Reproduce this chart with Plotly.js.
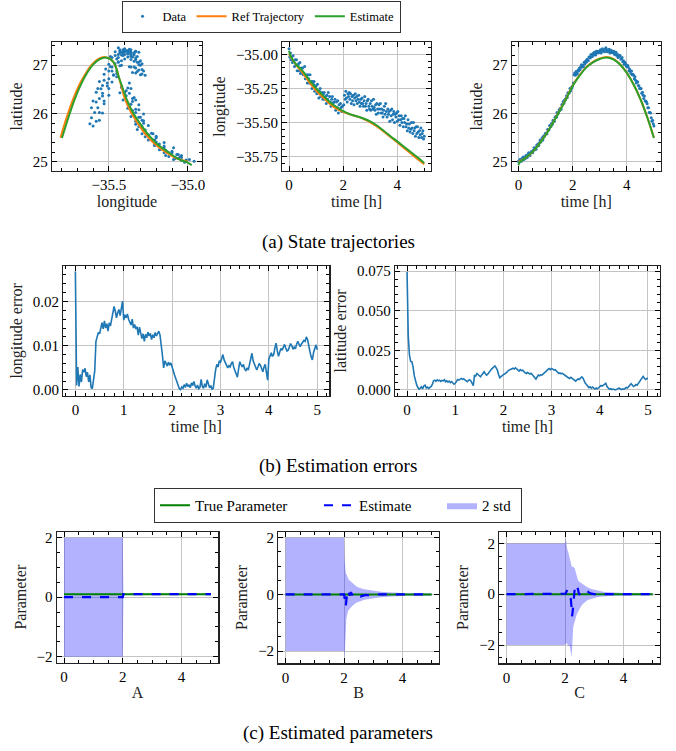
<!DOCTYPE html>
<html><head><meta charset="utf-8">
<script src="https://cdn.plot.ly/plotly-3.0.1.min.js"></script>
<style>html,body{margin:0;padding:0;background:#fff}</style>
</head><body><div id="chart" style="width:676px;height:751px"></div>
<script>
// ---------- DATA ----------
const t = [0,0.025,0.05,0.075,0.1,0.125,0.15,0.175,0.2,0.225,
0.25,0.275,0.3,0.325,0.35,0.375,0.4,0.425,0.45,0.475,
0.5,0.525,0.55,0.575,0.6,0.625,0.65,0.675,0.7,0.725,
0.75,0.775,0.8,0.825,0.85,0.875,0.9,0.925,0.95,0.975,
1,1.025,1.05,1.075,1.1,1.125,1.15,1.175,1.2,1.225,
1.25,1.275,1.3,1.325,1.35,1.375,1.4,1.425,1.45,1.475,
1.5,1.525,1.55,1.575,1.6,1.625,1.65,1.675,1.7,1.725,
1.75,1.775,1.8,1.825,1.85,1.875,1.9,1.925,1.95,1.975,
2,2.025,2.05,2.075,2.1,2.125,2.15,2.175,2.2,2.225,
2.25,2.275,2.3,2.325,2.35,2.375,2.4,2.425,2.45,2.475,
2.5,2.525,2.55,2.575,2.6,2.625,2.65,2.675,2.7,2.725,
2.75,2.775,2.8,2.825,2.85,2.875,2.9,2.925,2.95,2.975,
3,3.025,3.05,3.075,3.1,3.125,3.15,3.175,3.2,3.225,
3.25,3.275,3.3,3.325,3.35,3.375,3.4,3.425,3.45,3.475,
3.5,3.525,3.55,3.575,3.6,3.625,3.65,3.675,3.7,3.725,
3.75,3.775,3.8,3.825,3.85,3.875,3.9,3.925,3.95,3.975,
4,4.025,4.05,4.075,4.1,4.125,4.15,4.175,4.2,4.225,
4.25,4.275,4.3,4.325,4.35,4.375,4.4,4.425,4.45,4.475,
4.5,4.525,4.55,4.575,4.6,4.625,4.65,4.675,4.7,4.725,
4.75,4.775,4.8,4.825,4.85,4.875,4.9,4.925,4.95,4.975,
5];

const dataLon = [-34.96,-35.02,-34.99,-35.04,-35.02,-35.06,-35.01,-35.05,-35.09,-35.04,
-35.08,-35.04,-35.12,-35.08,-35.07,-35.12,-35.06,-35.14,-35.10,-35.13,
-35.10,-35.15,-35.14,-35.09,-35.18,-35.15,-35.17,-35.21,-35.15,-35.18,
-35.21,-35.15,-35.21,-35.20,-35.25,-35.20,-35.22,-35.20,-35.27,-35.25,
-35.23,-35.29,-35.22,-35.28,-35.32,-35.27,-35.25,-35.31,-35.29,-35.28,
-35.33,-35.29,-35.28,-35.33,-35.31,-35.36,-35.30,-35.33,-35.28,-35.35,
-35.31,-35.35,-35.38,-35.33,-35.31,-35.36,-35.35,-35.38,-35.33,-35.41,
-35.35,-35.39,-35.34,-35.43,-35.37,-35.40,-35.36,-35.39,-35.42,-35.38,
-35.42,-35.37,-35.30,-35.33,-35.27,-35.32,-35.35,-35.29,-35.31,-35.28,
-35.33,-35.29,-35.36,-35.31,-35.34,-35.30,-35.37,-35.32,-35.29,-35.34,
-35.31,-35.36,-35.33,-35.30,-35.35,-35.38,-35.33,-35.36,-35.32,-35.36,
-35.38,-35.34,-35.31,-35.38,-35.36,-35.41,-35.34,-35.33,-35.38,-35.40,
-35.36,-35.41,-35.34,-35.38,-35.40,-35.33,-35.39,-35.41,-35.37,-35.44,
-35.36,-35.40,-35.43,-35.37,-35.40,-35.36,-35.43,-35.40,-35.43,-35.46,
-35.41,-35.38,-35.44,-35.36,-35.42,-35.46,-35.40,-35.44,-35.42,-35.49,
-35.41,-35.45,-35.40,-35.48,-35.44,-35.42,-35.50,-35.44,-35.46,-35.43,
-35.49,-35.42,-35.48,-35.45,-35.52,-35.48,-35.45,-35.50,-35.47,-35.53,
-35.47,-35.50,-35.45,-35.53,-35.51,-35.56,-35.48,-35.54,-35.51,-35.57,
-35.55,-35.50,-35.54,-35.58,-35.50,-35.56,-35.54,-35.60,-35.53,-35.58,
-35.53,-35.57,-35.61,-35.56,-35.59,-35.54,-35.61,-35.58,-35.56,-35.62,
-35.60];

const dataLat = [25.01,24.99,25.05,25.03,25.01,25.07,25.04,25.10,25.05,25.09,
25.07,25.13,25.11,25.09,25.15,25.19,25.15,25.13,25.19,25.21,
25.22,25.19,25.24,25.29,25.25,25.29,25.26,25.35,25.33,25.37,
25.34,25.40,25.45,25.41,25.45,25.50,25.45,25.53,25.52,25.56,
25.59,25.58,25.58,25.67,25.67,25.66,25.75,25.73,25.73,25.80,
25.78,25.86,25.85,25.84,25.92,25.94,25.92,26.02,25.99,26.01,
26.08,26.06,26.11,26.09,26.18,26.19,26.25,26.21,26.28,26.28,
26.31,26.37,26.33,26.43,26.42,26.43,26.52,26.47,26.54,26.53,
26.57,26.63,26.80,26.84,26.79,26.87,26.85,26.82,26.90,26.88,
26.94,26.91,26.96,27.01,26.96,27.00,26.97,27.06,27.03,27.08,
27.06,27.12,27.12,27.09,27.17,27.17,27.15,27.22,27.18,27.18,
27.24,27.21,27.27,27.23,27.21,27.29,27.26,27.29,27.25,27.29,
27.27,27.32,27.25,27.30,27.34,27.29,27.30,27.28,27.33,27.36,
27.32,27.28,27.32,27.29,27.33,27.25,27.29,27.31,27.26,27.28,
27.26,27.29,27.22,27.24,27.27,27.20,27.22,27.16,27.21,27.18,
27.20,27.13,27.13,27.16,27.07,27.09,27.02,27.06,27.03,26.99,
26.97,27.00,26.96,26.88,26.92,26.88,26.83,26.88,26.80,26.81,
26.79,26.72,26.76,26.69,26.63,26.66,26.65,26.58,26.57,26.52,
26.51,26.52,26.42,26.44,26.38,26.31,26.36,26.26,26.26,26.24,
26.20,26.12,26.12,26.02,26.02,26.01,25.91,25.84,25.86,25.79,
25.74];

const refT = [0,0.25,0.5,0.75,1,1.25,1.5,1.75,2,2.25,2.5,2.75,3,3.25,3.5,3.75,4,4.25,4.5,4.75,5];
const refLon = [-35.00,-35.075,-35.135,-35.205,-35.265,-35.315,-35.362,-35.398,-35.422,-35.44,-35.455,-35.472,-35.498,-35.528,-35.566,-35.605,-35.645,-35.686,-35.726,-35.766,-35.806];
const refLat = [25.00,25.08,25.19,25.36,25.56,25.79,26.04,26.30,26.58,26.79,26.96,27.07,27.14,27.17,27.13,27.02,26.84,26.60,26.30,25.93,25.50];

const estT = [0,0.05,0.15,0.25,0.5,0.75,1,1.25,1.5,1.75,2,2.25,2.5,2.75,3,3.25,3.5,3.75,4,4.25,4.5,4.75,5];
const estLon = [-34.975,-35.01,-35.045,-35.071,-35.122,-35.189,-35.249,-35.301,-35.349,-35.386,-35.417,-35.439,-35.454,-35.470,-35.491,-35.522,-35.560,-35.600,-35.638,-35.677,-35.716,-35.755,-35.797];
const estLat = [24.93,24.998,25.035,25.081,25.196,25.354,25.556,25.785,26.031,26.288,26.57,26.777,26.95,27.06,27.127,27.16,27.122,27.013,26.838,26.599,26.299,25.928,25.493];

const lonErr = [0.0268,0.0010,0.0052,0.0008,0.0035,0.0018,0.0046,0.0040,0.0049,0.0030,
0.0040,0.0018,0.0034,0.0006,0.0003,0.0025,0.0043,0.0110,0.0118,0.0130,
0.0127,0.0143,0.0152,0.0138,0.0156,0.0140,0.0150,0.0133,0.0152,0.0145,
0.0160,0.0172,0.0189,0.0178,0.0163,0.0175,0.0182,0.0168,0.0186,0.0201,
0.0158,0.0170,0.0163,0.0172,0.0160,0.0155,0.0147,0.0160,0.0140,0.0148,
0.0138,0.0143,0.0124,0.0142,0.0130,0.0116,0.0127,0.0110,0.0126,0.0118,
0.0131,0.0122,0.0128,0.0114,0.0125,0.0118,0.0130,0.0122,0.0128,0.0133,
0.0124,0.0105,0.0078,0.0050,0.0066,0.0060,0.0054,0.0063,0.0056,0.0061,
0.0050,0.0042,0.0034,0.0026,0.0018,0.0010,0.0003,0.0001,0.0007,0.0004,
0.0012,0.0006,0.0015,0.0008,0.0012,0.0005,0.0016,0.0010,0.0019,0.0009,
0.0004,0.0011,0.0003,0.0006,0.0024,0.0008,0.0004,0.0014,0.0006,0.0023,
0.0012,0.0005,0.0010,0.0002,0.0004,0.0030,0.0046,0.0058,0.0052,0.0066,
0.0063,0.0071,0.0080,0.0068,0.0062,0.0058,0.0050,0.0055,0.0052,0.0060,
0.0064,0.0051,0.0044,0.0036,0.0029,0.0048,0.0064,0.0057,0.0052,0.0058,
0.0047,0.0044,0.0050,0.0045,0.0058,0.0072,0.0083,0.0066,0.0058,0.0050,
0.0045,0.0052,0.0060,0.0056,0.0048,0.0041,0.0052,0.0058,0.0040,0.0022,
0.0070,0.0078,0.0084,0.0076,0.0080,0.0095,0.0106,0.0088,0.0076,0.0086,
0.0094,0.0090,0.0098,0.0103,0.0095,0.0088,0.0090,0.0098,0.0105,0.0100,
0.0092,0.0097,0.0093,0.0104,0.0110,0.0103,0.0098,0.0104,0.0108,0.0112,
0.0110,0.0120,0.0114,0.0095,0.0087,0.0075,0.0068,0.0085,0.0095,0.0102,
0.0091];

const latErr = [0.0745,0.0340,0.0220,0.0180,0.0178,0.0146,0.0090,0.0055,0.0032,0.0015,
0.0006,0.0012,0.0020,0.0008,0.0026,0.0030,0.0012,0.0018,0.0009,0.0016,
0.0022,0.0035,0.0058,0.0062,0.0055,0.0064,0.0058,0.0062,0.0054,0.0060,
0.0057,0.0064,0.0052,0.0058,0.0050,0.0056,0.0047,0.0053,0.0044,0.0036,
0.0042,0.0055,0.0066,0.0062,0.0070,0.0073,0.0067,0.0071,0.0064,0.0058,
0.0052,0.0060,0.0065,0.0057,0.0040,0.0027,0.0094,0.0088,0.0104,0.0098,
0.0090,0.0083,0.0095,0.0106,0.0115,0.0102,0.0094,0.0100,0.0112,0.0125,
0.0130,0.0138,0.0146,0.0152,0.0140,0.0125,0.0098,0.0077,0.0085,0.0094,
0.0097,0.0101,0.0104,0.0112,0.0122,0.0126,0.0130,0.0134,0.0137,0.0132,
0.0140,0.0133,0.0125,0.0119,0.0128,0.0122,0.0125,0.0115,0.0108,0.0104,
0.0110,0.0106,0.0100,0.0105,0.0094,0.0088,0.0078,0.0069,0.0082,0.0094,
0.0090,0.0096,0.0094,0.0100,0.0108,0.0115,0.0122,0.0130,0.0135,0.0128,
0.0136,0.0132,0.0125,0.0128,0.0120,0.0112,0.0104,0.0108,0.0102,0.0105,
0.0098,0.0094,0.0090,0.0082,0.0077,0.0072,0.0080,0.0074,0.0068,0.0062,
0.0056,0.0064,0.0070,0.0066,0.0074,0.0083,0.0076,0.0058,0.0042,0.0035,
0.0024,0.0015,0.0020,0.0012,0.0018,0.0010,0.0006,0.0012,0.0008,0.0014,
0.0020,0.0028,0.0024,0.0032,0.0040,0.0042,0.0022,0.0010,0.0004,0.0008,
0.0003,0.0006,0.0002,0.0000,0.0004,0.0008,0.0012,0.0006,0.0003,0.0007,
0.0004,0.0010,0.0016,0.0012,0.0020,0.0028,0.0040,0.0032,0.0022,0.0026,
0.0034,0.0030,0.0042,0.0056,0.0068,0.0080,0.0086,0.0074,0.0066,0.0072,
0.0073];

const pT = [0,0.5,1,1.5,1.98,2,2.02,2.04,2.06,2.08,2.1,2.12,2.14,2.16,2.18,2.2,2.22,2.24,2.26,2.28,2.3,2.33,2.36,2.4,2.44,2.48,2.52,2.56,2.6,2.65,2.7,2.75,2.8,2.9,3,3.1,3.2,3.35,3.5,3.75,4,4.5,5];

const trueA = [0.1,0.1,0.1,0.1,0.1,0.1,0.1,0.1,0.1,0.1,0.1,0.1,0.1,0.1,0.1,0.1,0.1,0.1,0.1,0.1,0.1,0.1,0.1,0.1,0.1,0.1,0.1,0.1,0.1,0.1,0.1,0.1,0.1,0.1,0.1,0.1,0.1,0.1,0.1,0.1,0.1,0.1,0.1];
const estA = [0,0,0,0,0,0,0.1,0.1,0.1,0.1,0.1,0.1,0.1,0.1,0.1,0.1,0.1,0.1,0.1,0.1,0.1,0.1,0.1,0.1,0.1,0.1,0.1,0.1,0.1,0.1,0.1,0.1,0.1,0.1,0.1,0.1,0.1,0.1,0.1,0.1,0.1,0.1,0.1];
const upA = [2,2,2,2,2,2,0.12,0.12,0.12,0.12,0.12,0.12,0.12,0.12,0.12,0.12,0.12,0.12,0.12,0.12,0.12,0.12,0.12,0.12,0.12,0.12,0.12,0.12,0.12,0.12,0.12,0.12,0.12,0.12,0.12,0.12,0.12,0.12,0.12,0.12,0.12,0.12,0.12];
const loA = [-2,-2,-2,-2,-2,-2,0.08,0.08,0.08,0.08,0.08,0.08,0.08,0.08,0.08,0.08,0.08,0.08,0.08,0.08,0.08,0.08,0.08,0.08,0.08,0.08,0.08,0.08,0.08,0.08,0.08,0.08,0.08,0.08,0.08,0.08,0.08,0.08,0.08,0.08,0.08,0.08,0.08];

const trueB = [0,0,0,0,0,0,0,0,0,0,0,0,0,0,0,0,0,0,0,0,0,0,0,0,0,0,0,0,0,0,0,0,0,0,0,0,0,0,0,0,0,0,0];
const estB = [0,0,0,0,0,0,-0.15,-0.35,-0.43,-0.2,0.05,0.15,0.12,0.05,-0.02,-0.04,0.02,0.05,0.03,-0.02,-0.05,-0.08,-0.07,-0.03,-0.02,-0.05,-0.07,-0.08,-0.06,-0.04,-0.03,-0.02,-0.03,-0.01,0,0.01,0,0,0,0,0,0,0];
const upB = [2,2,2,2,2,2,1.2,0.85,0.75,0.72,0.65,0.6,0.55,0.52,0.5,0.48,0.46,0.44,0.42,0.4,0.38,0.35,0.32,0.29,0.27,0.25,0.23,0.22,0.21,0.19,0.18,0.17,0.16,0.14,0.13,0.11,0.1,0.08,0.07,0.06,0.05,0.05,0.04];
const loB = [-2,-2,-2,-2,-2,-2,-2.22,-1.6,-1.2,-0.85,-0.75,-0.62,-0.58,-0.55,-0.52,-0.5,-0.47,-0.45,-0.43,-0.41,-0.39,-0.36,-0.34,-0.31,-0.29,-0.27,-0.25,-0.24,-0.22,-0.21,-0.19,-0.18,-0.17,-0.15,-0.14,-0.12,-0.11,-0.09,-0.08,-0.07,-0.06,-0.05,-0.05];

const trueC = [0,0,0,0,0,0,0,0,0,0,0,0,0,0,0,0,0,0,0,0,0,0,0,0,0,0,0,0,0,0,0,0,0,0,0,0,0,0,0,0,0,0,0];
const estC = [0,0,0,0,0,0,0.02,0.08,0.15,0.17,0.12,0.05,-0.02,-0.05,-0.1,-0.2,-0.5,-0.87,-0.7,-0.4,-0.1,0.2,0.35,0.37,0.2,-0.02,0.03,0.1,0.15,0.17,0.17,0.13,0.08,0.02,0,0.01,0,0,0,0,0,0,0];
const upC = [2,2,2,2,2,2,2.22,2.0,1.85,1.75,1.7,1.6,1.5,1.4,1.3,1.2,1.12,1.05,1.1,1.08,1.06,1.02,0.9,0.65,0.56,0.5,0.46,0.43,0.4,0.36,0.32,0.28,0.25,0.2,0.17,0.14,0.12,0.09,0.08,0.06,0.05,0.04,0.04];
const loC = [-2,-2,-2,-2,-2,-2,-1.95,-1.92,-1.95,-1.97,-1.98,-2.0,-2.0,-2.05,-2.15,-2.3,-2.48,-2.2,-1.6,-1.3,-1.2,-1.05,-0.95,-0.8,-0.7,-0.6,-0.5,-0.45,-0.4,-0.34,-0.29,-0.25,-0.22,-0.18,-0.15,-0.12,-0.1,-0.08,-0.07,-0.06,-0.05,-0.04,-0.04];

// ---------- STYLE / LAYOUT ----------
const W = 676, H = 751;
const FONT = 'Liberation Serif, Times New Roman, serif';
const BLUE = '#1f77b4', ORANGE = '#ff7f0e', GREEN = '#2ca02c';
const px = v => v / W;
const py = v => 1 - v / H;

function axis(d0, d1, range, dtick, tick0, minorDt, fmt, title, anchor, isY) {
  return {
    domain: isY ? [py(d1), py(d0)] : [px(d0), px(d1)],
    range: range, autorange: false, anchor: anchor,
    tickmode: 'linear', dtick: dtick, tick0: tick0, tickformat: fmt,
    ticks: 'inside', ticklen: 5, tickwidth: 1, tickcolor: '#000',
    mirror: 'allticks', showline: true, linecolor: '#222', linewidth: 1.2,
    showgrid: true, gridcolor: '#c4c4c4', gridwidth: 1, zeroline: false,
    minor: {dtick: minorDt, tick0: tick0, ticks: 'inside', ticklen: 3, tickwidth: 1, tickcolor: '#000', showgrid: false},
    tickfont: {family: FONT, size: 15, color: '#000'},
    title: {text: title, font: {family: FONT, size: 16, color: '#222'}, standoff: isY ? 6 : 2}
  };
}

const traces = [];
// Row 1, plot 1: longitude vs latitude
traces.push({x: dataLon, y: dataLat, mode: 'markers', type: 'scatter', name: 'Data', marker: {color: BLUE, size: 3}, xaxis: 'x', yaxis: 'y', legend: 'legend', legendrank: 1});
traces.push({x: refLon, y: refLat, mode: 'lines', type: 'scatter', name: 'Ref Trajectory', line: {color: ORANGE, width: 2, shape: 'spline'}, xaxis: 'x', yaxis: 'y', legend: 'legend', legendrank: 2});
traces.push({x: estLon, y: estLat, mode: 'lines', type: 'scatter', name: 'Estimate', line: {color: GREEN, width: 2, shape: 'spline'}, xaxis: 'x', yaxis: 'y', legend: 'legend', legendrank: 3});
// Plot 2: time vs longitude
traces.push({x: t, y: dataLon, mode: 'markers', type: 'scatter', marker: {color: BLUE, size: 3}, xaxis: 'x2', yaxis: 'y2', showlegend: false});
traces.push({x: refT, y: refLon, mode: 'lines', type: 'scatter', line: {color: ORANGE, width: 2, shape: 'spline'}, xaxis: 'x2', yaxis: 'y2', showlegend: false});
traces.push({x: estT, y: estLon, mode: 'lines', type: 'scatter', line: {color: GREEN, width: 2, shape: 'spline'}, xaxis: 'x2', yaxis: 'y2', showlegend: false});
// Plot 3: time vs latitude
traces.push({x: t, y: dataLat, mode: 'markers', type: 'scatter', marker: {color: BLUE, size: 3}, xaxis: 'x3', yaxis: 'y3', showlegend: false});
traces.push({x: refT, y: refLat, mode: 'lines', type: 'scatter', line: {color: ORANGE, width: 2, shape: 'spline'}, xaxis: 'x3', yaxis: 'y3', showlegend: false});
traces.push({x: estT, y: estLat, mode: 'lines', type: 'scatter', line: {color: GREEN, width: 2, shape: 'spline'}, xaxis: 'x3', yaxis: 'y3', showlegend: false});
// Row 2 errors
traces.push({x: t, y: lonErr, mode: 'lines', type: 'scatter', line: {color: BLUE, width: 1.6}, xaxis: 'x4', yaxis: 'y4', showlegend: false});
traces.push({x: t, y: latErr, mode: 'lines', type: 'scatter', line: {color: BLUE, width: 1.6}, xaxis: 'x5', yaxis: 'y5', showlegend: false});
// Row 3 parameters
const params = [[trueA, estA, upA, loA], [trueB, estB, upB, loB], [trueC, estC, upC, loC]];
params.forEach((p, i) => {
  const xa = 'x' + (6 + i), ya = 'y' + (6 + i), first = i === 0;
  traces.push({x: pT, y: p[3], mode: 'lines', type: 'scatter', line: {width: 0, color: 'rgba(0,0,255,0)'}, xaxis: xa, yaxis: ya, showlegend: false, legend: 'legend2', hoverinfo: 'skip'});
  traces.push({x: pT, y: p[2], mode: 'lines', type: 'scatter', fill: 'tonexty', fillcolor: 'rgba(0,0,255,0.3)', line: {width: 0, color: 'rgba(0,0,255,0)'}, name: '2 std', xaxis: xa, yaxis: ya, showlegend: first, legend: 'legend2', legendrank: 3, legendwidth: 34});
  traces.push({x: pT, y: p[0], mode: 'lines', type: 'scatter', line: {color: 'green', width: 2}, name: 'True Parameter', xaxis: xa, yaxis: ya, showlegend: first, legend: 'legend2', legendrank: 1, legendwidth: 119});
  traces.push({x: pT, y: p[1], mode: 'lines', type: 'scatter', line: {color: 'blue', width: 2.2, dash: 'dash'}, name: 'Estimate', xaxis: xa, yaxis: ya, showlegend: first, legend: 'legend2', legendrank: 2, legendwidth: 78});
});

const layout = {
  width: W, height: H, margin: {l: 0, r: 0, t: 0, b: 0},
  paper_bgcolor: '#fff', plot_bgcolor: '#fff',
  font: {family: FONT, size: 15, color: '#000'},
  showlegend: true,
  xaxis:  axis(52, 202, [-35.86, -34.91], 0.5, -35, 0.1, '.1f', 'longitude', 'y', false),
  yaxis:  axis(42, 171, [24.81, 27.48], 1, 25, 0.2, 'd', 'latitude', 'x', true),
  xaxis2: axis(282.3, 431, [-0.25, 5.25], 2, 0, 0.5, 'd', 'time [h]', 'y2', false),
  yaxis2: axis(42, 171, [-35.855, -34.91], 0.25, -35, 0.05, '.2f', 'longitude', 'x2', true),
  xaxis3: axis(511.7, 660.7, [-0.25, 5.25], 2, 0, 0.5, 'd', 'time [h]', 'y3', false),
  yaxis3: axis(42, 171, [24.81, 27.48], 1, 25, 0.2, 'd', 'latitude', 'x3', true),
  xaxis4: axis(63.3, 329.3, [-0.25, 5.25], 1, 0, 0.2, 'd', 'time [h]', 'y4', false),
  yaxis4: axis(265.7, 396, [-0.00136, 0.0281], 0.01, 0, 0.002, '.2f', 'longitude error', 'x4', true),
  xaxis5: axis(395, 660, [-0.25, 5.25], 1, 0, 0.2, 'd', 'time [h]', 'y5', false),
  yaxis5: axis(266, 396, [-0.0038, 0.0782], 0.025, 0, 0.005, '.3f', 'latitude error', 'x5', true),
  xaxis6: axis(56.7, 218.3, [-0.25, 5.25], 2, 0, 0.5, 'd', 'A', 'y6', false),
  yaxis6: axis(531.7, 662.7, [-2.2, 2.2], 2, 0, 0.5, 'd', 'Parameter', 'x6', true),
  xaxis7: axis(278.3, 439, [-0.25, 5.25], 2, 0, 0.5, 'd', 'B', 'y7', false),
  yaxis7: axis(531.7, 663.3, [-2.43, 2.21], 2, 0, 0.5, 'd', 'Parameter', 'x7', true),
  xaxis8: axis(499.3, 660, [-0.25, 5.25], 2, 0, 0.5, 'd', 'C', 'y8', false),
  yaxis8: axis(531.7, 663.3, [-2.72, 2.46], 2, 0, 0.5, 'd', 'Parameter', 'x8', true),
  legend: {orientation: 'h', x: px(261), xanchor: 'center', y: py(0.5), yanchor: 'top',
    bordercolor: '#333', borderwidth: 1, bgcolor: '#fff', font: {family: FONT, size: 12.5, color: '#000'}, traceorder: 'normal'},
  legend2: {orientation: 'h', x: 0.5, xanchor: 'center', y: py(488), yanchor: 'top',
    bordercolor: '#333', borderwidth: 1, bgcolor: '#fff', font: {family: FONT, size: 15, color: '#000'}, traceorder: 'normal'},
  annotations: [
    {text: '(a) State trajectories', x: 0.5, y: py(242), xref: 'paper', yref: 'paper', showarrow: false, xanchor: 'center', yanchor: 'middle', font: {family: FONT, size: 19, color: '#000'}},
    {text: '(b) Estimation errors', x: 0.5, y: py(466), xref: 'paper', yref: 'paper', showarrow: false, xanchor: 'center', yanchor: 'middle', font: {family: FONT, size: 19, color: '#000'}},
    {text: '(c) Estimated parameters', x: 0.5, y: py(733), xref: 'paper', yref: 'paper', showarrow: false, xanchor: 'center', yanchor: 'middle', font: {family: FONT, size: 19, color: '#000'}}
  ]
};

Plotly.newPlot('chart', traces, layout, {displayModeBar: false, staticPlot: true});
</script>
</body></html>
